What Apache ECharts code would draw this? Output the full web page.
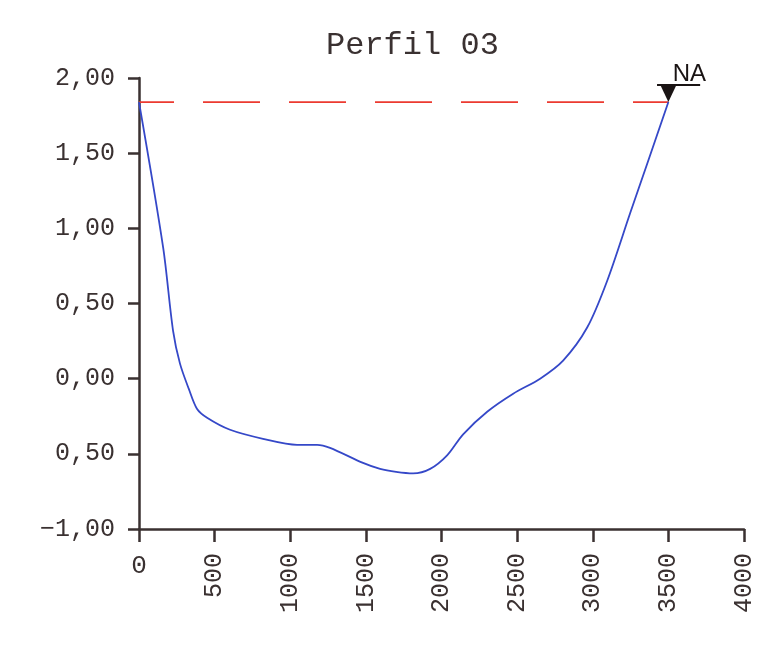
<!DOCTYPE html>
<html>
<head>
<meta charset="utf-8">
<script src="https://cdn.jsdelivr.net/npm/echarts@6/dist/echarts.min.js"></script>
<style>html,body{margin:0;padding:0;background:#fff;}#c{width:768px;height:646px;}</style>
</head>
<body>
<div id="c"></div>
<script>
// Profile data (distance, elevation)
var profileX = [0,160,225,271,330,383,450,602,820,1045,1177,1263,1481,1594,1700,1812,1925,2037,2143,2302,2474,2652,2804,2963,3095,3247,3360,3500];
var profileY = [1.84,0.87,0.32,0.10,-0.07,-0.20,-0.26,-0.34,-0.40,-0.44,-0.44,-0.46,-0.56,-0.60,-0.62,-0.63,-0.60,-0.51,-0.37,-0.22,-0.10,0.00,0.12,0.34,0.65,1.10,1.43,1.84];
// Water level (NA)
var waterX = [0, 3500];
var waterLevel = 1.84;
var naLabel = 'NA';
var naUnderlineX = [3425, 3710];
var naUnderlineY = 1.953;
// Axis tick labels
var yTickValues = [-1, -0.5, 0, 0.5, 1, 1.5, 2];
var yTickLabels = ['\u22121,00', '0,50', '0,00', '0,50', '1,00', '1,50', '2,00'];
var xTickLabels = ['0','500','1000','1500','2000','2500','3000','3500','4000'];
var titleText = 'Perfil 03';

var FONT = 'Liberation Mono';
var INK = '#3a3131';

var chart = echarts.init(document.getElementById('c'), null, {renderer: 'canvas'});
chart.setOption({
  animation: false,
  backgroundColor: '#ffffff',
  title: {
    text: titleText,
    left: 321, top: 25,
    textStyle: {fontFamily: FONT, fontSize: 32, fontWeight: 'normal', color: INK}
  },
  grid: {left: 139, right: 24, top: 78, bottom: 117, containLabel: false},
  xAxis: {
    type: 'value', min: 0, max: 4000, interval: 500,
    axisLine: {onZero: false, lineStyle: {color: INK, width: 2.5}},
    axisTick: {show: true, length: 13, lineStyle: {color: INK, width: 2.5}},
    splitLine: {show: false},
    axisLabel: {
      rotate: 90, margin: 24, fontFamily: FONT, fontSize: 25, color: INK,
      formatter: function (v) { var i = Math.round(v / 500); return i === 0 ? '' : xTickLabels[i]; }
    }
  },
  yAxis: {
    type: 'value', min: -1, max: 2, interval: 0.5,
    axisLine: {onZero: false, lineStyle: {color: INK, width: 2.5}},
    axisTick: {show: true, length: 11, lineStyle: {color: INK, width: 2.5}},
    splitLine: {show: false},
    axisLabel: {
      margin: 24, fontFamily: FONT, fontSize: 25, color: INK,
      formatter: function (v) {
        for (var i = 0; i < yTickValues.length; i++) {
          if (Math.abs(yTickValues[i] - v) < 1e-6) return yTickLabels[i];
        }
        return '';
      }
    }
  },
  series: [
    {
      type: 'line',
      data: waterX.map(function (x) { return [x, waterLevel]; }),
      symbol: 'none',
      lineStyle: {color: '#ec3a30', width: 1.8, type: [57, 29], dashOffset: 22},
      z: 2
    },
    {
      type: 'line',
      data: profileX.map(function (x, i) { return [x, profileY[i]]; }),
      symbol: 'none',
      smooth: 0.3,
      lineStyle: {color: '#3548c8', width: 1.8},
      z: 3
    },
    {
      type: 'line',
      data: naUnderlineX.map(function (x) { return [x, naUnderlineY]; }),
      symbol: 'none',
      lineStyle: {color: '#1a1414', width: 2},
      z: 4
    },
    {
      type: 'scatter',
      data: [[waterX[1], waterLevel]],
      symbol: 'triangle',
      symbolRotate: 180,
      symbolSize: [17, 18],
      symbolOffset: [0, -9],
      itemStyle: {color: '#1a1414', opacity: 1},
      label: {
        show: true, formatter: naLabel, position: 'top', distance: 0,
        offset: [21, 2],
        fontFamily: 'Liberation Sans', fontSize: 24, color: '#1a1414'
      },
      z: 5
    },
    {
      // upright "0" label at the origin of the x axis
      type: 'scatter',
      data: [[0, yTickValues[0]]],
      symbolSize: 0,
      silent: true,
      itemStyle: {opacity: 1},
      label: {
        show: true, formatter: xTickLabels[0], position: 'bottom', distance: 24,
        fontFamily: FONT, fontSize: 26, color: INK
      },
      z: 5
    }
  ]
});
</script>
</body>
</html>
